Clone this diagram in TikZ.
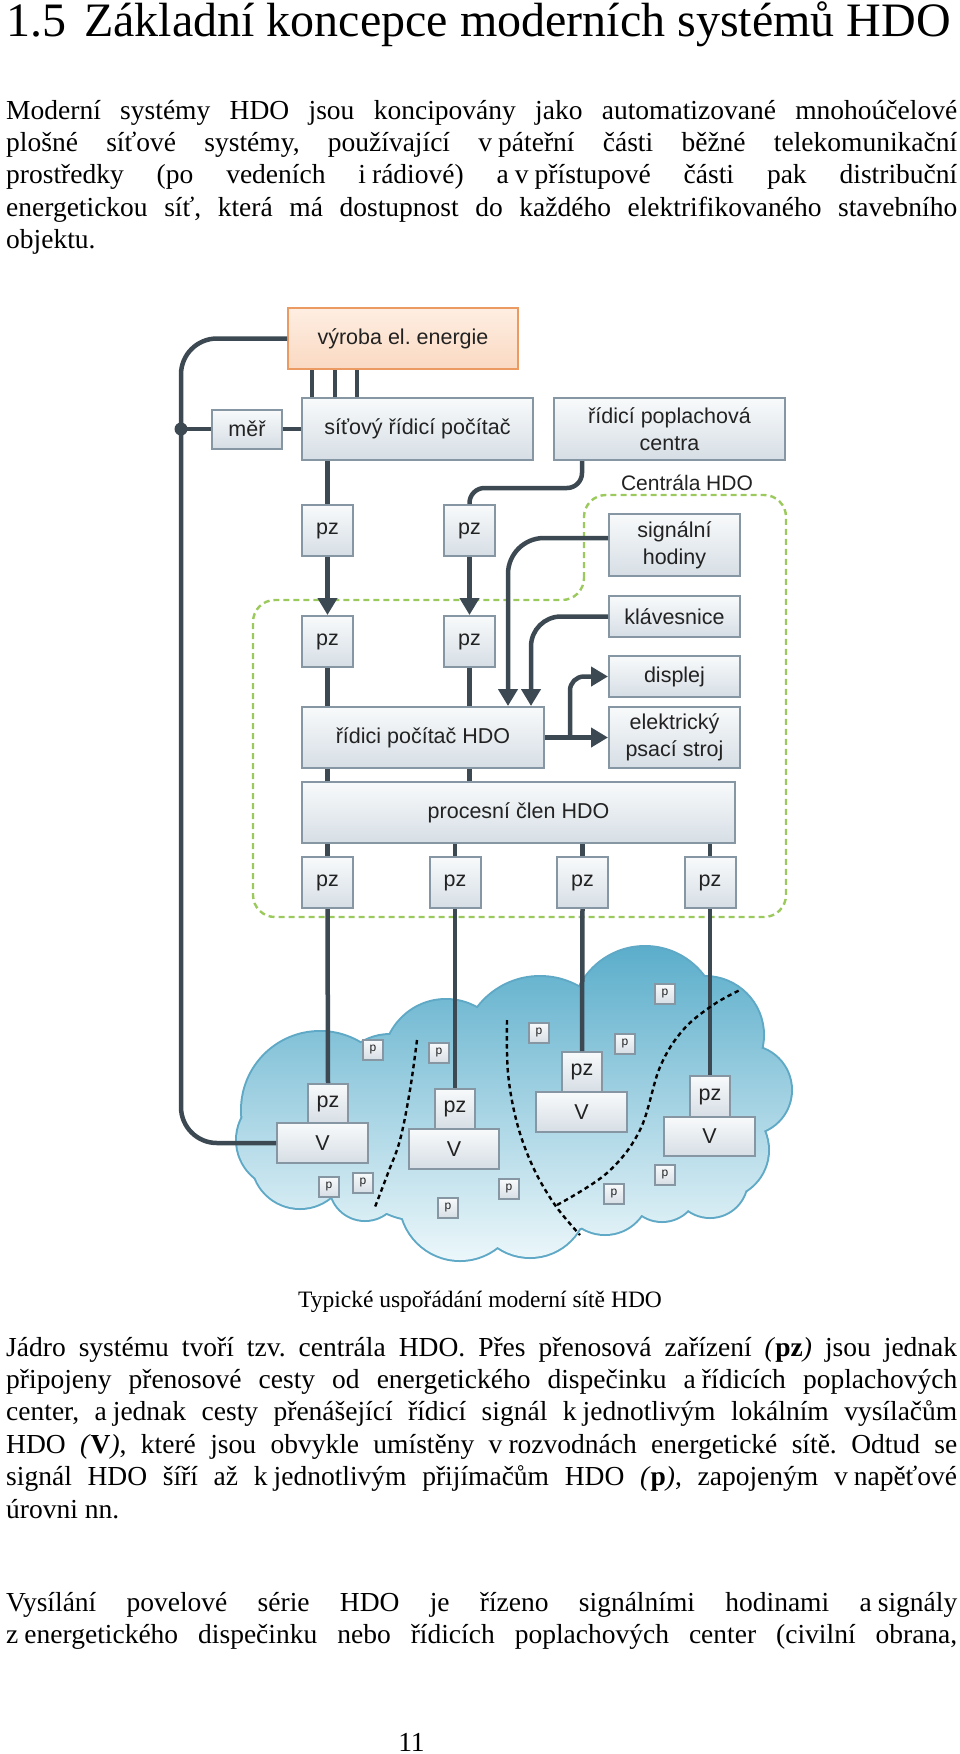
\documentclass[tikz,border=0pt]{standalone}
\usepackage{fontspec}
\setmainfont{Liberation Serif}
\newfontfamily\arialf{Liberation Sans}
\usetikzlibrary{arrows.meta,shadings}
\definecolor{boxborder}{HTML}{8796A3}
\definecolor{boxtop}{HTML}{F8FAFB}
\definecolor{boxbot}{HTML}{D6DEE5}
\definecolor{orborder}{HTML}{EB9A62}
\definecolor{ortop}{HTML}{FEEEE2}
\definecolor{orbot}{HTML}{FAD9C2}
\definecolor{conncol}{HTML}{3C4952}
\definecolor{cgreen}{HTML}{9BC95C}
\definecolor{cloudtop}{HTML}{58ACCA}
\definecolor{cloudbot}{HTML}{EEF8FB}
\definecolor{cloudedge}{HTML}{5FA9C6}
\definecolor{boxtext}{HTML}{222222}
\newcommand{\ns}{\hspace{0.22em}}
\frenchspacing
\begin{document}
\begin{tikzpicture}[x=1pt,y=-1pt,
  box/.style={draw=boxborder, line width=2pt, top color=boxtop, bottom color=boxbot,
    font=\arialf\fontsize{21.5}{27}\selectfont, text=boxtext, align=center, inner sep=0pt},
  bx/.style 2 args={box, minimum width=#1, minimum height=#2},
  orbox/.style={box, draw=orborder, top color=ortop, bottom color=orbot},
  pbox/.style={box, line width=1.6pt, minimum width=20, minimum height=20, font=\arialf\fontsize{12}{14}\selectfont},
  conn/.style={draw=conncol, line width=4.5pt},
  arr/.style={-{Triangle[length=17pt,width=19pt]}},
  dotline/.style={draw=black, line width=2.4pt, dash pattern=on 4.5pt off 3.5pt},
  bodytext/.style={anchor=base west, inner sep=0pt, font=\fontsize{27.5}{32.4}\selectfont},
]
\useasboundingbox (0,0) rectangle (960,1754);

% ---------------- text ----------------
\node[anchor=base west, inner sep=0pt, font=\fontsize{48}{56}\selectfont] (title) at (6,36)
  {\makebox[78pt][l]{1.5}Základní koncepce moderních systémů HDO};

\node[bodytext] (a1) at (6,119) {\makebox[951pt][s]{Moderní systémy HDO jsou koncipovány jako automatizované mnohoúčelové}};
\node[bodytext] (a2) at (6,151.4) {\makebox[951pt][s]{plošné síťové systémy, používající v\ns páteřní části běžné telekomunikační}};
\node[bodytext] (a3) at (6,183.8) {\makebox[951pt][s]{prostředky (po vedeních i\ns rádiové) a\ns v\ns přístupové části pak distribuční}};
\node[bodytext] (a4) at (6,216.2) {\makebox[951pt][s]{energetickou síť, která má dostupnost do každého elektrifikovaného stavebního}};
\node[bodytext] (a5) at (6,248.6) {objektu.};

\node[anchor=base, inner sep=0pt, font=\fontsize{23.5}{28}\selectfont] (caption) at (480,1307)
  {Typické uspořádání moderní sítě HDO};

\node[bodytext] (b1) at (6,1356) {\makebox[951pt][s]{Jádro systému tvoří tzv. centrála HDO. Přes přenosová zařízení \textit{(}\textbf{pz}\textit{)} jsou jednak}};
\node[bodytext] (b2) at (6,1388.4) {\makebox[951pt][s]{připojeny přenosové cesty od energetického dispečinku a\ns řídicích poplachových}};
\node[bodytext] (b3) at (6,1420.8) {\makebox[951pt][s]{center, a\ns jednak cesty přenášející řídicí signál k\ns jednotlivým lokálním vysílačům}};
\node[bodytext] (b4) at (6,1453.2) {\makebox[951pt][s]{HDO \textit{(}\textbf{V}\textit{)}, které jsou obvykle umístěny v\ns rozvodnách energetické sítě. Odtud se}};
\node[bodytext] (b5) at (6,1485.6) {\makebox[951pt][s]{signál HDO šíří až k\ns jednotlivým přijímačům HDO \textit{(}\textbf{p}\textit{)}, zapojeným v\ns napěťové}};
\node[bodytext] (b6) at (6,1518) {úrovni nn.};

\node[bodytext] (c1) at (6,1611) {\makebox[951pt][s]{Vysílání povelové série HDO je řízeno signálními hodinami a\ns signály}};
\node[bodytext] (c2) at (6,1643.4) {\makebox[951pt][s]{z\ns energetického dispečinku nebo řídicích poplachových center (civilní obrana,}};

\node[anchor=base, inner sep=0pt, font=\fontsize{27.5}{32}\selectfont] (pagenum) at (411.5,1751) {11};

% ---------------- cloud ----------------
\begin{scope}
  \foreach \cx/\cy/\r in {320/1110/78, 390/1090/55, 446/1062/62, 540/1055/78, 645/1020/73,
     705/1035/58, 747/1090/44, 720/1150/48, 710/1180/37, 662/1185/36, 605/1190/44,
     530/1200/57, 460/1200/60, 365/1185/35, 300/1160/48, 285/1140/48,
     560/1130/100, 420/1140/80, 680/1110/65}
    \draw[draw=cloudedge, line width=4pt] (\cx,\cy) circle (\r);
\end{scope}
\begin{scope}
  \clip (320,1110) circle (78) (390,1090) circle (55) (446,1062) circle (62)
        (540,1055) circle (78) (645,1020) circle (73) (705,1035) circle (58)
        (747,1090) circle (44) (720,1150) circle (48) (710,1180) circle (37)
        (662,1185) circle (36) (605,1190) circle (44) (530,1200) circle (57)
        (460,1200) circle (60) (365,1185) circle (35) (300,1160) circle (48)
        (285,1140) circle (48) (560,1130) circle (100) (420,1140) circle (80)
        (680,1110) circle (65);
  \shade[top color=cloudtop, bottom color=cloudbot] (220,940) rectangle (800,1265);
\end{scope}

% ---------------- Centrala HDO outline ----------------
\draw[draw=cgreen, line width=2.4pt, dash pattern=on 6pt off 4pt, rounded corners=22]
  (584,600) -- (584,495) -- (786,495) -- (786,917) -- (253,917) -- (253,600) -- cycle;
\node[font=\arialf\fontsize{21}{25}\selectfont, text=boxtext, inner sep=0pt] (centrala) at (687,483) {Centrála HDO};

% ---------------- boxes ----------------
\node[orbox, minimum width=230, minimum height=61] (vyroba) at (403,338.5) {výroba el. energie};
\node[bx={70}{39}] (mer) at (247,429) {měř};
\node[bx={231}{62}] (sit) at (417.5,429) {síťový řídicí počítač};
\node[bx={231}{62}] (popl) at (669.5,429) {řídicí poplachová\\centra};

\node[bx={51}{51}] (pzA1) at (327.5,530.5) {pz};
\node[bx={51}{51}] (pzB1) at (469.5,530.5) {pz};
\node[bx={51}{51}] (pzA2) at (327.5,641.5) {pz};
\node[bx={51}{51}] (pzB2) at (469.5,641.5) {pz};

\node[bx={131}{62}] (sig) at (674.5,545) {signální\\hodiny};
\node[bx={131}{41}] (klav) at (674.5,616.5) {klávesnice};
\node[bx={131}{41}] (disp) at (674.5,676.5) {displej};
\node[bx={131}{61}] (elek) at (674.5,737.5) {elektrický\\psací stroj};

\node[bx={242}{61}] (ridpoc) at (423,737.5) {řídici počítač HDO};
\node[bx={433}{61}] (proc) at (518.5,812.5) {procesní člen HDO};

\node[bx={51}{51}] (pz1) at (327.5,882.5) {pz};
\node[bx={51}{51}] (pz2) at (455,882.5) {pz};
\node[bx={51}{51}] (pz3) at (582.5,882.5) {pz};
\node[bx={51}{51}] (pz4) at (710,882.5) {pz};

% cloud transmitters
\node[bx={40}{39}] (cpz1) at (328,1103.5) {pz};
\node[bx={91}{40}] (V1) at (322.5,1143) {V};
\node[bx={40}{40}] (cpz2) at (455,1109) {pz};
\node[bx={90}{40}] (V2) at (454,1149) {V};
\node[bx={40}{40}] (cpz3) at (582,1072) {pz};
\node[bx={91}{40}] (V3) at (581.5,1112) {V};
\node[bx={40}{41}] (cpz4) at (710,1096.5) {pz};
\node[bx={91}{39}] (V4) at (709.5,1136.5) {V};

% receivers
\node[pbox] (p1) at (373,1050) {p};
\node[pbox] (p2) at (439,1053) {p};
\node[pbox] (p3) at (539,1033) {p};
\node[pbox] (p4) at (625,1044) {p};
\node[pbox] (p5) at (665,994) {p};
\node[pbox] (p6) at (329,1187) {p};
\node[pbox] (p7) at (363,1183) {p};
\node[pbox] (p8) at (448,1208) {p};
\node[pbox] (p9) at (509,1189) {p};
\node[pbox] (p10) at (614,1194) {p};
\node[pbox] (p11) at (665,1175) {p};

% ---------------- connectors ----------------
\coordinate (tl) at (181,338.5);
\coordinate (bl) at (181,1143);
\coordinate (jn) at (181,429);
\draw[conn, rounded corners=36] (vyroba.west) -- (tl) -- (bl) -- (V1.west);
\fill[conncol] (jn) circle (6.5);
\draw[conn] (jn) -- (mer.west);
\draw[conn] (mer.east) -- (sit.west);
\foreach \dx in {-91,-68,-46}
  \draw[conn] ([xshift=\dx pt]vyroba.south) -- ([xshift=\dx pt]vyroba.south |- sit.north);

\draw[conn] (pzA1.north |- sit.south) -- (pzA1.north);
\draw[conn, rounded corners=15] ([xshift=-87.5pt]popl.south) -- ++(0,27) -| (pzB1.north);

\draw[conn, arr] (pzA1.south) -- (pzA2.north);
\draw[conn, arr] (pzB1.south) -- (pzB2.north);

\draw[conn] (pzA2.south) -- (pzA2.south |- ridpoc.north);
\draw[conn] (pzB2.south) -- (pzB2.south |- ridpoc.north);
\draw[conn] (pzA2.south |- ridpoc.south) -- (pzA2.south |- proc.north);
\draw[conn] (pzB2.south |- ridpoc.south) -- (pzB2.south |- proc.north);

\draw[conn, arr, rounded corners=36] ([yshift=7pt]sig.west) -| ([xshift=85pt]ridpoc.north);
\draw[conn, arr, rounded corners=30] (klav.west) -| ([xshift=108pt]ridpoc.north);
\draw[conn, arr] (ridpoc.east) -- (elek.west);
\draw[conn, arr, rounded corners=14] ([xshift=25pt]ridpoc.east) |- (disp.west);

\foreach \n in {1,2,3,4} {
  \draw[conn] (pz\n.north |- proc.south) -- (pz\n.north);
  \draw[conn] (pz\n.south) -- (cpz\n.north);
}

% dotted borders of areas
\draw[dotline] plot[smooth, tension=0.6] coordinates {(417,1040) (410,1090) (400,1140) (388,1173) (375,1207)};
\draw[dotline] plot[smooth, tension=0.6] coordinates {(507,1020) (508,1073) (517,1123) (533,1167) (555,1205) (580,1235)};
\draw[dotline] plot[smooth, tension=0.6] coordinates {(557,1205) (607,1173) (640,1130) (660,1067) (683,1030) (713,1005) (740,990)};
\end{tikzpicture}
\end{document}
